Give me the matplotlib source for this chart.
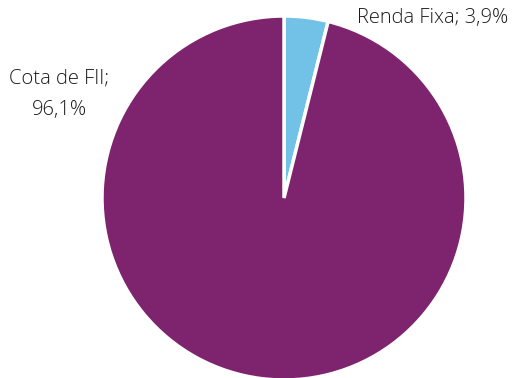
import matplotlib.pyplot as plt

# donnees
categories = ['Renda Fixa', 'Cota de FII']
valeurs = [3.9, 96.1]
etiquettes = ['Renda Fixa; 3,9%', 'Cota de FII;\n96,1%']
couleurs = ['#71C2E6', '#7E236D']

fig = plt.figure(figsize=(5.24, 3.78), dpi=100)
ax = fig.add_axes([0, 0, 1, 1])

ax.pie(valeurs, colors=couleurs, startangle=90, counterclock=False,
       wedgeprops={'edgecolor': 'white', 'linewidth': 2.5})

ax.set_xlim(-284 / 182, 240 / 182)
ax.set_ylim(-180 / 182, 198 / 182)
ax.set_aspect('equal')
ax.axis('off')

# etiquettes
ax.text(0.401, 0.989, etiquettes[0], ha='left', va='center',
        fontsize=14.5, family='Open Sans', fontweight='light', color='#1a1a1a')
ax.text(-1.236, 0.57, etiquettes[1], ha='center', va='center',
        fontsize=14.5, family='Open Sans', fontweight='light', color='#1a1a1a',
        linespacing=1.75)

plt.savefig('out.png')
